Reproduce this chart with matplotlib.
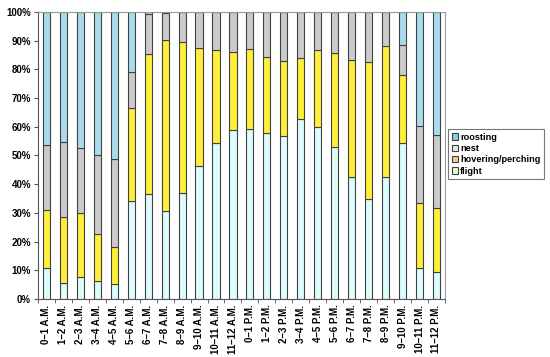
import matplotlib
matplotlib.use("Agg")
import matplotlib.pyplot as plt
import numpy as np
from matplotlib.patches import Patch

hours = ["0–1 A.M.", "1–2 A.M.", "2–3 A.M.", "3–4 A.M.", "4–5 A.M.", "5–6 A.M.",
         "6–7 A.M.", "7–8 A.M.", "8–9 A.M.", "9–10 A.M.", "10–11 A.M.", "11–12 A.M.",
         "0–1 P.M.", "1–2 P.M.", "2–3 P.M.", "3–4 P.M.", "4–5 P.M.", "5–6 P.M.",
         "6–7 P.M.", "7–8 P.M.", "8–9 P.M.", "9–10 P.M.", "10–11 P.M.", "11–12 P.M."]

# cumulative tops (percent)
flight_top = [10.8, 5.6, 7.5, 6.2, 5.2, 34.2, 36.7, 30.5, 37.0, 46.5, 54.2, 58.9,
              59.2, 57.9, 56.8, 62.7, 60.0, 53.0, 42.5, 34.8, 42.6, 54.5, 10.7, 9.3]
hover_top = [31.0, 28.4, 30.0, 22.7, 18.2, 66.6, 85.3, 90.2, 89.4, 87.6, 86.8, 86.2,
             87.0, 84.4, 82.9, 83.8, 86.8, 85.8, 83.3, 82.5, 88.3, 78.2, 33.3, 31.6]
nest_top = [53.8, 54.6, 52.7, 50.0, 48.9, 79.0, 99.3, 99.5, 100.0, 100.0, 100.0, 100.0,
            100.0, 100.0, 100.0, 100.0, 100.0, 100.0, 100.0, 100.0, 100.0, 88.6, 60.3, 57.1]

flight = np.array(flight_top)
hover = np.array(hover_top) - np.array(flight_top)
nest = np.array(nest_top) - np.array(hover_top)
roost = 100.0 - np.array(nest_top)

series = ["roosting", "nest", "hovering/perching", "flight"]
colors = {"flight": "#DDFDFD", "hovering/perching": "#FFEF3A",
          "nest": "#CBCBCB", "roosting": "#A8DCEC"}
legend_colors = {"flight": "#E6FAD0", "hovering/perching": "#F5CE80",
                 "nest": "#E8E8E8", "roosting": "#8CCFD8"}

plt.rcParams['font.family'] = ['Liberation Sans', 'DejaVu Sans']

fig = plt.figure(figsize=(5.5, 3.57), dpi=100)
ax = fig.add_axes([0.069, 0.1625, 0.74, 0.804])

x = np.arange(len(hours))
w = 0.42
ec = "#404040"
lw = 0.8
ax.bar(x, flight, w, color=colors["flight"], edgecolor=ec, linewidth=lw)
ax.bar(x, hover, w, bottom=flight, color=colors["hovering/perching"], edgecolor=ec, linewidth=lw)
ax.bar(x, nest, w, bottom=flight + hover, color=colors["nest"], edgecolor=ec, linewidth=lw)
ax.bar(x, roost, w, bottom=flight + hover + nest, color=colors["roosting"], edgecolor=ec, linewidth=lw)

ax.set_xlim(-0.5, len(hours) - 0.5)
ax.set_ylim(0, 100)
ax.set_yticks(np.arange(0, 101, 10))
ax.set_yticklabels([f"{v}%" for v in range(0, 101, 10)], fontsize=7, fontweight='bold')
ax.set_xticks(x)
ax.set_xticklabels(hours, rotation=90, fontsize=7, fontweight='bold')
ax.set_xticks(np.arange(-0.5, len(hours), 1), minor=True)
ax.tick_params(axis='x', which='major', length=0, pad=4)
ax.tick_params(axis='x', which='minor', length=3, color='#555555')
ax.tick_params(axis='y', length=3, color='#555555', pad=2)

for s in ['top', 'right']:
    ax.spines[s].set_color('#999999')
    ax.spines[s].set_linewidth(0.8)
for s in ['left', 'bottom']:
    ax.spines[s].set_color('#555555')
    ax.spines[s].set_linewidth(0.8)

handles = [Patch(facecolor=legend_colors[s], edgecolor='#404040', linewidth=0.8, label=s) for s in series]
leg = fig.legend(handles=handles, loc='upper left', bbox_to_anchor=(0.815, 0.638),
                 prop={'weight': 'bold', 'size': 6.6}, frameon=True,
                 fancybox=False, edgecolor='#555555', handlelength=0.7, handleheight=0.7,
                 handletextpad=0.2, borderpad=0.4, labelspacing=0.25, borderaxespad=0)
leg.get_frame().set_linewidth(0.8)

fig.savefig("out.png", dpi=100)
